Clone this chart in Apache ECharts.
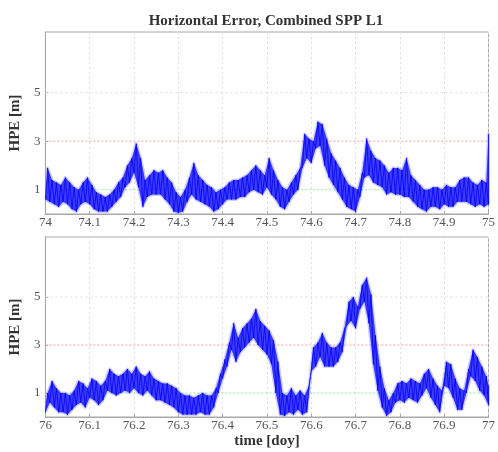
<!DOCTYPE html>
<html>
<head>
<meta charset="utf-8">
<script src="https://cdn.jsdelivr.net/npm/echarts@6/dist/echarts.min.js"></script>
<style>
html,body{margin:0;padding:0;background:#fff;}
#chart{width:498px;height:452px;}
</style>
</head>
<body>
<div id="chart"></div>
<script>
// ---- data ----
// each bin is 0.01 day; lo/hi = lower/upper edge of the noisy band
const titleText = 'Horizontal Error, Combined SPP L1';
const yTickLabels = [1, 3, 5];
const thresholdRed = 3;
const thresholdGreen = 1;
const gridLevel = 5;
const xStartTop = 74;
const xStartBottom = 76;
const binWidth = 0.01;

const topLo = [0.6,0.5,0.4,0.3,0.5,0.4,0.2,0.1,0.4,0.5,
  0.4,0.2,0.1,0.1,0.1,0.3,0.5,0.7,1.1,1.3,
  1.7,1.1,0.3,0.7,0.8,0.8,0.8,0.6,0.4,0.1,
  0.05,0.1,0.5,0.8,0.6,0.5,0.4,0.3,0.1,0.2,
  0.4,0.6,0.6,0.6,0.7,0.7,0.9,1.0,0.9,0.8,
  1.1,0.8,0.6,0.3,0.2,0.5,0.8,1.0,1.9,2.3,
  2.1,2.7,2.8,2.0,1.5,1.2,0.9,0.6,0.3,0.2,
  0.1,0.7,1.5,1.6,1.3,1.2,1.1,0.8,0.9,0.8,
  0.8,0.7,0.7,0.5,0.3,0.2,0.1,0.3,0.3,0.2,
  0.4,0.3,0.3,0.5,0.5,0.5,0.4,0.3,0.4,0.3,
  0.4];
const topHi = [1.9,1.4,1.3,1.2,1.5,1.3,1.1,1.0,1.3,1.5,
  1.2,0.9,0.8,0.7,0.8,1.0,1.3,1.5,2.0,2.3,
  2.9,2.3,1.4,1.6,1.8,1.7,1.8,1.5,1.3,0.9,
  0.7,1.0,1.5,2.1,1.6,1.4,1.2,1.1,0.9,1.0,
  1.1,1.3,1.4,1.4,1.5,1.6,1.8,2.0,1.8,1.6,
  2.3,1.8,1.4,1.1,1.0,1.3,1.6,1.9,3.3,3.1,
  3.0,3.8,3.7,3.1,2.5,2.2,1.9,1.5,1.2,1.1,
  1.0,1.7,3.1,2.6,2.3,2.2,2.0,1.7,1.9,1.9,
  1.8,2.3,1.6,1.4,1.2,1.0,1.0,1.1,1.1,1.0,
  1.2,1.1,1.1,1.4,1.5,1.5,1.3,1.2,1.4,1.3,
  3.3];

const bottomLo = [0.2,0.6,0.4,0.2,0.2,0.1,0.3,0.5,0.6,0.4,
  0.8,0.7,0.5,0.7,1.1,1.0,0.9,1.0,1.1,1.0,
  1.2,1.0,0.9,1.1,0.9,0.7,0.7,0.6,0.5,0.4,
  0.2,0.1,0.1,0.1,0.1,0.2,0.1,0.1,0.4,1.0,
  1.6,2.1,2.8,2.3,2.7,2.9,3.1,3.3,3.0,2.8,
  2.6,2.2,1.0,0.1,0.05,0.2,0.1,0.3,0.1,0.2,
  1.9,2.1,2.5,2.1,2.1,2.1,2.3,2.7,3.8,4.0,
  3.7,4.5,4.8,3.9,2.2,1.1,0.4,0.05,0.2,0.6,
  0.7,0.6,0.8,0.7,0.6,0.9,1.2,0.8,0.5,0.2,
  1.3,1.2,0.8,0.3,0.3,1.0,1.7,1.5,1.1,0.9,
  0.5];
const bottomHi = [1.0,1.5,1.2,1.0,1.0,0.9,1.1,1.5,1.4,1.2,
  1.6,1.5,1.3,1.5,2.0,1.8,1.7,1.8,2.0,1.8,
  2.1,1.8,1.7,1.9,1.6,1.5,1.4,1.4,1.3,1.2,
  1.0,0.9,0.9,0.8,0.9,1.0,0.9,0.9,1.2,1.8,
  2.4,3.1,3.9,3.3,3.7,3.9,4.1,4.5,4.0,3.8,
  3.6,3.2,2.3,1.0,0.9,1.2,0.9,1.1,0.9,1.3,
  2.9,3.1,3.5,3.1,2.9,2.9,3.1,3.7,4.8,5.0,
  4.6,5.5,5.8,5.1,3.4,2.1,1.2,0.7,1.0,1.4,
  1.5,1.4,1.6,1.5,1.4,1.8,2.0,1.6,1.3,1.1,
  2.3,2.2,1.6,1.2,1.1,2.0,2.8,2.5,2.1,1.7,
  1.3];

// ---- build series data from the arrays ----
function xLo(x0, i) { return +(x0 + i * binWidth).toFixed(4); }
function xHi(x0, i, n) { return i < n - 1 ? +(x0 + (i + 0.5) * binWidth).toFixed(4) : xLo(x0, i); }
function zigzag(x0, lo, hi) {
  const out = [];
  for (let i = 0; i < lo.length; i++) {
    out.push([xLo(x0, i), lo[i]]);
    out.push([xHi(x0, i, lo.length), hi[i]]);
  }
  return out;
}

const serifFont = '"Liberation Serif", "DejaVu Serif", serif';
const gridBox = [
  {left: 39, top: 32, width: 453, height: 182},
  {left: 39, top: 237, width: 453, height: 180}
];
const axisGray = '#a8a8a8';

function xAxisFor(idx, start, withName) {
  return {
    type: 'value', gridIndex: idx, min: start, max: start + 1, interval: 0.1,
    axisLine: {show: true, lineStyle: {color: axisGray, width: 1}},
    axisTick: {show: true, inside: true, length: 3, lineStyle: {color: axisGray}},
    axisLabel: {color: '#555', fontFamily: serifFont, fontSize: 13, margin: 2,
      formatter: v => String(+v.toFixed(1))},
    splitLine: {show: true, lineStyle: {color: '#dedede', type: [2, 3], width: 1}},
    name: withName ? 'time [doy]' : '',
    nameLocation: 'middle', nameGap: 17,
    nameTextStyle: {color: '#333', fontFamily: serifFont, fontWeight: 'bold', fontSize: 15}
  };
}
function yAxisFor(idx) {
  return {
    type: 'value', gridIndex: idx, min: 0, max: 7.5, interval: 1,
    axisLine: {show: true, lineStyle: {color: axisGray, width: 1}},
    axisTick: {show: true, inside: true, length: 3, customValues: yTickLabels, lineStyle: {color: axisGray}},
    axisLabel: {color: '#555', fontFamily: serifFont, fontSize: 13, margin: 5, customValues: yTickLabels},
    splitLine: {show: false},
    name: 'HPE [m]', nameLocation: 'middle', nameGap: 11, nameRotate: 90,
    nameTextStyle: {color: '#333', fontFamily: serifFont, fontWeight: 'bold', fontSize: 15}
  };
}
function hLine(idx, x0, y, color, dash) {
  return {
    type: 'line', xAxisIndex: idx, yAxisIndex: idx, z: 1, silent: true,
    data: [[x0, y], [x0 + 1, y]], symbol: 'none',
    lineStyle: {color: color, type: dash, width: 1}
  };
}
function bandSeries(idx, x0, lo, hi, fill, stroke, strokeWidth, z) {
  return {
    type: 'custom', xAxisIndex: idx, yAxisIndex: idx, z: z, silent: true,
    data: [0], clip: true,
    renderItem: function (params, api) {
      const n = lo.length;
      const pts = [];
      for (let i = 0; i < n; i++) pts.push(api.coord([xHi(x0, i, n), hi[i]]));
      for (let i = n - 1; i >= 0; i--) pts.push(api.coord([xLo(x0, i), lo[i]]));
      return {type: 'polygon', shape: {points: pts},
        style: {fill: fill, stroke: stroke, lineWidth: strokeWidth, lineJoin: 'round'}};
    }
  };
}
function panel(idx, x0, lo, hi) {
  return [
    hLine(idx, x0, gridLevel, '#dadada', [2, 3]),
    hLine(idx, x0, thresholdRed, '#ff9a9a', [2, 2]),
    hLine(idx, x0, thresholdGreen, '#90ee90', [2, 2]),
    bandSeries(idx, x0, lo, hi, 'rgba(110,110,255,0.35)', 'rgba(110,110,255,0.35)', 3, 2),
    bandSeries(idx, x0, lo, hi, 'rgba(20,20,255,0.78)', 'none', 0, 3),
    {type: 'line', xAxisIndex: idx, yAxisIndex: idx, z: 4, silent: true,
     data: zigzag(x0, lo, hi), symbol: 'none',
     lineStyle: {color: 'rgba(0,0,240,0.85)', width: 0.9}}
  ];
}

const chart = echarts.init(document.getElementById('chart'), null, {renderer: 'canvas'});
chart.setOption({
  animation: false,
  backgroundColor: '#fff',
  title: {
    text: titleText, left: 261, top: 9, textAlign: 'center',
    textStyle: {fontFamily: serifFont, fontWeight: 'bold', fontSize: 15, color: '#333'}
  },
  grid: gridBox.map(g => Object.assign({show: true, borderColor: axisGray, borderWidth: 1, backgroundColor: 'transparent'}, g)),
  xAxis: [xAxisFor(0, xStartTop, false), xAxisFor(1, xStartBottom, true)],
  yAxis: [yAxisFor(0), yAxisFor(1)],
  series: [
    ...panel(0, xStartTop, topLo, topHi),
    ...panel(1, xStartBottom, bottomLo, bottomHi)
  ]
});
</script>
</body>
</html>
